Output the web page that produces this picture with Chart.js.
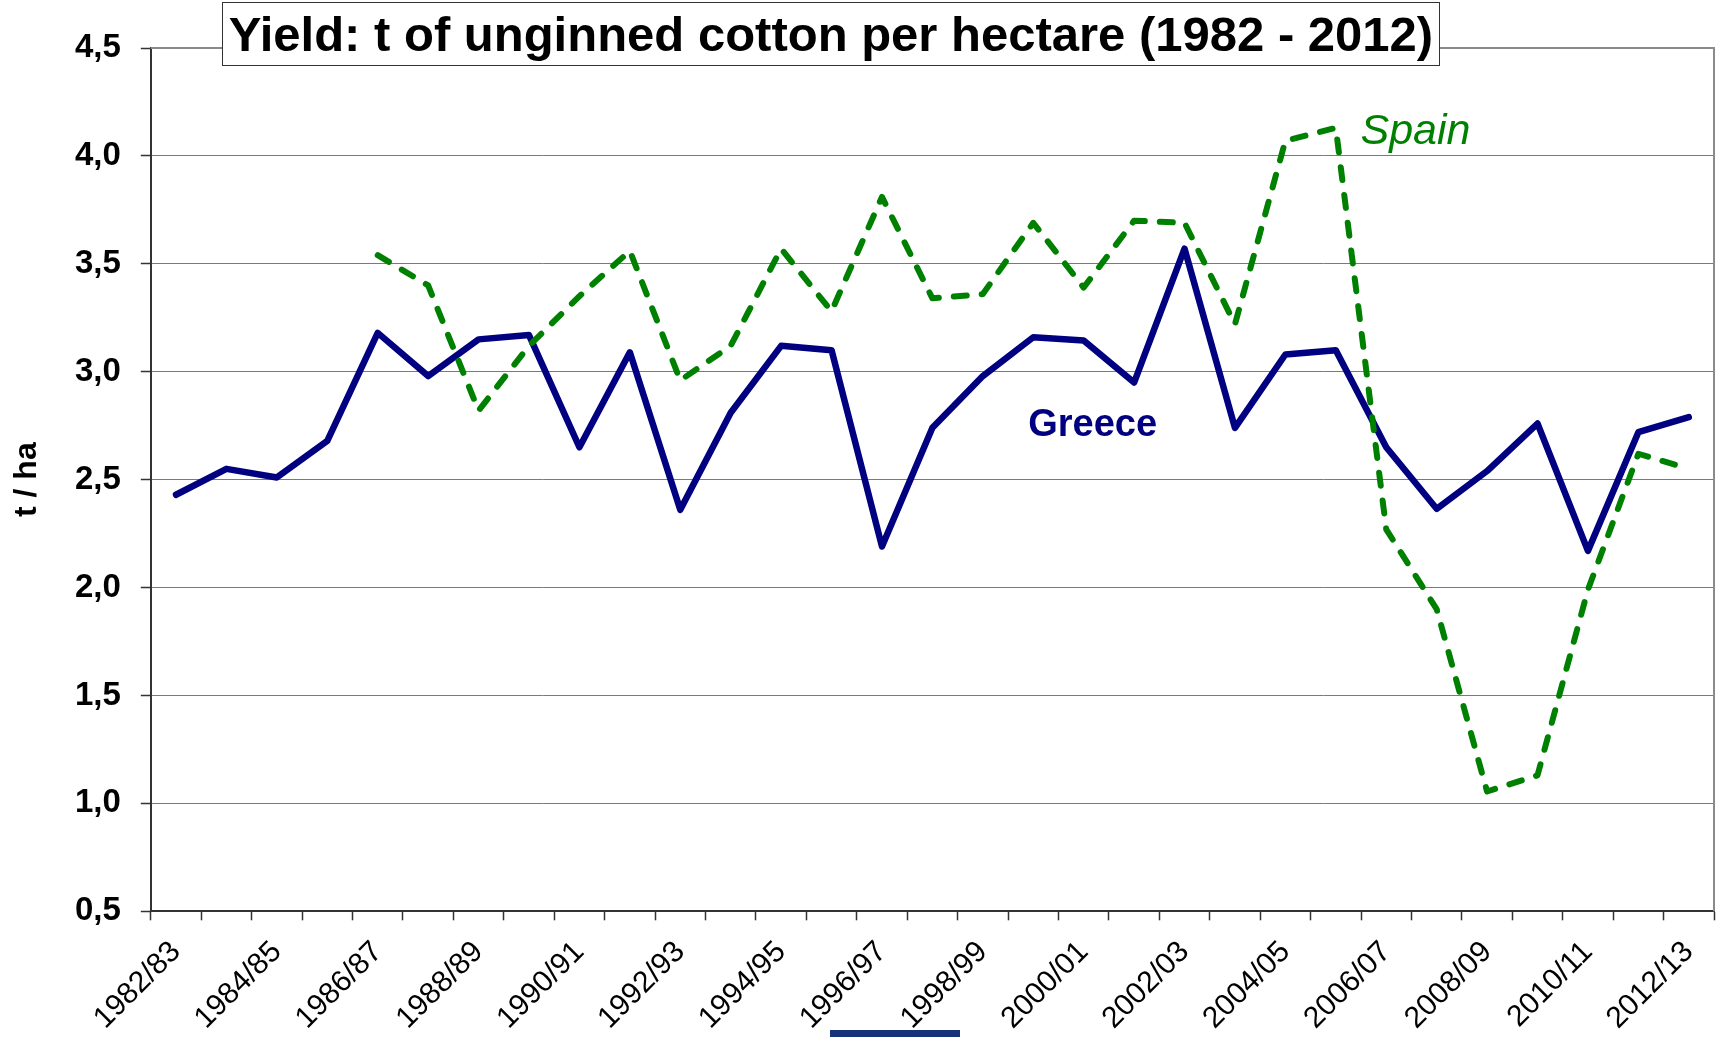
<!DOCTYPE html>
<html>
<head>
<meta charset="utf-8">
<script src="https://cdn.jsdelivr.net/npm/chart.js@4.4.1/dist/chart.umd.min.js"></script>
<style>
  html, body { margin: 0; padding: 0; background: #fff; }
  #wrap { position: relative; width: 1719px; height: 1037px; overflow: hidden; background: #fff; }
  #chart { position: absolute; left: 0; top: 0; }
  #title {
    position: absolute; left: 222px; top: 2px; width: 1218px; height: 64px;
    box-sizing: border-box; border: 1.5px solid #333; background: #fff;
    font: bold 49px "Liberation Sans", Arial, sans-serif; color: #000;
    text-align: center; line-height: 61px; white-space: nowrap; padding-top: 1px;
  }
  #bar { position: absolute; left: 830px; top: 1030px; width: 130px; height: 7px; background: #17327a; }
</style>
</head>
<body>
<div id="wrap">
  <canvas id="chart" width="1719" height="1037"></canvas>
  <div id="title">Yield: t of unginned cotton per hectare (1982 - 2012)</div>
  <div id="bar"></div>
</div>
<script>
// ---- data ----
const categories = ['1982/83','1983/84','1984/85','1985/86','1986/87','1987/88','1988/89','1989/90',
  '1990/91','1991/92','1992/93','1993/94','1994/95','1995/96','1996/97','1997/98','1998/99','1999/00',
  '2000/01','2001/02','2002/03','2003/04','2004/05','2005/06','2006/07','2007/08','2008/09','2009/10',
  '2010/11','2011/12','2012/13'];
const greece = [2.43, 2.55, 2.51, 2.68, 3.18, 2.98, 3.15, 3.17, 2.65, 3.09, 2.36, 2.81, 3.12, 3.10, 2.19,
  2.74, 2.98, 3.16, 3.145, 2.95, 3.57, 2.74, 3.08, 3.10, 2.65, 2.365, 2.54, 2.76, 2.17, 2.72, 2.79];
const spain = [null, null, null, null, 3.54, 3.40, 2.82, 3.12, 3.35, 3.56, 2.96, 3.12, 3.57, 3.28, 3.81,
  3.34, 3.36, 3.69, 3.39, 3.70, 3.69, 3.22, 4.07, 4.13, 2.27, 1.90, 1.055, 1.13, 1.99, 2.62, 2.55];
const yMin = 0.5, yMax = 4.5, yStep = 0.5;
const yTitle = 't / ha';
const seriesNames = ['Greece', 'Spain'];

// in-chart series labels (category index, value)
const seriesLabels = [
  { text: 'Greece', at: 16.9, value: 2.70, color: '#000080', font: 'bold 38px "Liberation Sans", Arial, sans-serif' },
  { text: 'Spain', at: 23.49, value: 4.056, color: '#008000', font: 'italic 43px "Liberation Sans", Arial, sans-serif' }
];

const FONT = '"Liberation Sans", Arial, sans-serif';

const framePlugin = {
  id: 'frame',
  afterDraw(chart) {
    const { ctx, chartArea: a, scales } = chart;
    ctx.save();
    ctx.strokeStyle = '#8a8a8a';
    ctx.lineWidth = 2;
    ctx.beginPath();
    ctx.moveTo(a.left, a.top);
    ctx.lineTo(a.right, a.top);
    ctx.lineTo(a.right, a.bottom);
    ctx.stroke();
    // series labels
    ctx.textBaseline = 'alphabetic';
    ctx.textAlign = 'left';
    const y = scales.y;
    const catW = (a.right - a.left) / categories.length;
    seriesLabels.forEach(l => {
      ctx.font = l.font;
      ctx.fillStyle = l.color;
      const px = a.left + (l.at + 0.5) * catW;
      ctx.fillText(l.text, px, y.getPixelForValue(l.value));
    });
    ctx.restore();
  }
};

Chart.defaults.font.family = FONT;

new Chart(document.getElementById('chart'), {
  type: 'line',
  data: {
    labels: categories,
    datasets: [
      {
        label: seriesNames[1], data: spain,
        borderColor: '#008000', borderWidth: 6, borderDash: [13, 15], borderCapStyle: 'round',
        borderJoinStyle: 'round', pointRadius: 0, tension: 0, fill: false, spanGaps: false
      },
      {
        label: seriesNames[0], data: greece,
        borderColor: '#000080', borderWidth: 6.5, borderCapStyle: 'round',
        borderJoinStyle: 'round', pointRadius: 0, tension: 0, fill: false
      }
    ]
  },
  options: {
    responsive: false,
    devicePixelRatio: 1,
    animation: false,
    layout: { padding: { top: 48, right: 5, left: 0, bottom: 0 } },
    plugins: { legend: { display: false }, tooltip: { enabled: false }, title: { display: false } },
    scales: {
      x: {
        type: 'category',
        offset: true,
        grid: { offset: true, drawOnChartArea: false, drawTicks: true, tickLength: 9, tickColor: '#333', tickWidth: 1.5 },
        border: { display: true, color: '#333', width: 2 },
        ticks: {
          autoSkip: false, minRotation: 45, maxRotation: 45, padding: 14,
          color: '#000', font: { size: 30, family: FONT },
          callback: (v, i) => (i % 2 === 0 ? categories[i] : '')
        },
        afterFit: (s) => { s.height = 125.7; s.paddingLeft = 0; s.paddingRight = 0; }
      },
      y: {
        min: yMin, max: yMax,
        grid: { color: '#7a7a7a', lineWidth: 1, borderDash: [1, 1], drawTicks: true, tickLength: 10,
                tickColor: '#333', tickWidth: 1.5, tickBorderDash: [] },
        border: { display: true, color: '#333', width: 2 },
        ticks: {
          stepSize: yStep, padding: 20, color: '#000',
          font: { size: 33, weight: 'bold', family: FONT },
          callback: (v) => v.toFixed(1).replace('.', ',')
        },
        title: { display: true, text: yTitle, color: '#000', font: { size: 32, weight: 'bold', family: FONT }, padding: { top: 8, bottom: 0 } },
        afterFit: (s) => { s.width = 150.8; s.paddingTop = 0; s.paddingBottom = 0; }
      }
    }
  },
  plugins: [framePlugin]
});
</script>
</body>
</html>
